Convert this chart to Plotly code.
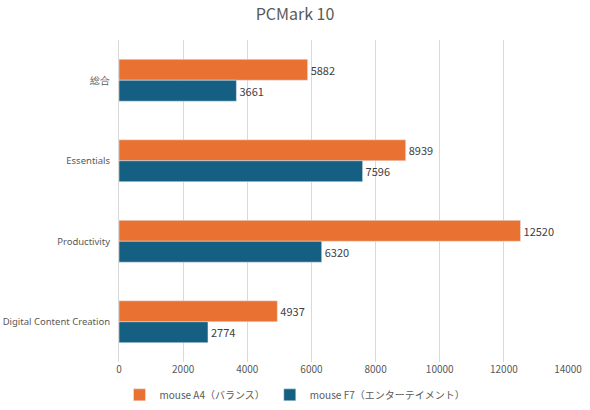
import plotly.graph_objects as go

categories = ["総合", "Essentials", "Productivity", "Digital Content Creation"]
a4_values = [5882, 8939, 12520, 4937]
f7_values = [3661, 7596, 6320, 2774]
series_names = ["mouse A4（バランス）", "mouse F7（エンターテイメント）"]
tick_vals = [0, 2000, 4000, 6000, 8000, 10000, 12000, 14000]
tick_text = [str(v) for v in tick_vals]

font_family = "Noto Sans CJK JP, Noto Sans, sans-serif"

fig = go.Figure()
fig.add_trace(go.Bar(
    y=categories, x=a4_values, name=series_names[0], orientation="h",
    marker_color="#E97132", text=a4_values, textposition="outside",
    textfont=dict(size=11, color="#404040"), cliponaxis=False,
))
fig.add_trace(go.Bar(
    y=categories, x=f7_values, name=series_names[1], orientation="h",
    marker_color="#156082", text=f7_values, textposition="outside",
    textfont=dict(size=11, color="#404040"), cliponaxis=False,
))

fig.update_layout(
    width=590, height=410,
    margin=dict(l=119, r=22, t=40, b=48, autoexpand=False),
    paper_bgcolor="white", plot_bgcolor="white",
    font=dict(family=font_family, size=11, color="#595959"),
    title=dict(text="PCMark 10", x=0.5, xanchor="center", y=0.965, yanchor="middle",
               font=dict(size=16, color="#595959")),
    barmode="group", bargap=0.48, bargroupgap=0,
    legend=dict(orientation="h", x=0.5, xanchor="center", xref="container",
                y=0.037, yanchor="middle", yref="container",
                font=dict(size=10, color="#595959"), itemwidth=30,
                traceorder="normal"),
    xaxis=dict(range=[0, 14000], tickvals=tick_vals, ticktext=tick_text, showgrid=True,
               gridcolor="#D9D9D9", gridwidth=1, zeroline=False, showline=False, ticks="",
               tickfont=dict(size=10, color="#595959"), automargin=False),
    yaxis=dict(autorange="reversed", showline=True, linecolor="#D9D9D9", ticks="",
               tickfont=dict(size=9.5, color="#595959", family="Noto Sans, sans-serif"),
               ticklabelstandoff=6, automargin=False),
)

fig.write_html("out.html")
